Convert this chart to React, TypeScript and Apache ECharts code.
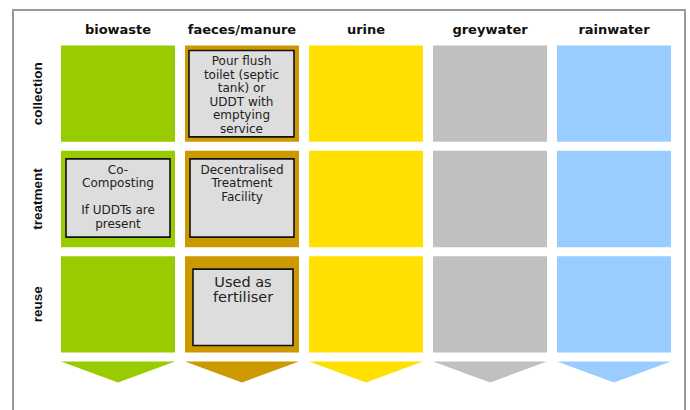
import React, { useEffect, useRef } from 'react';
import * as echarts from 'echarts';

const streams = ['biowaste', 'faeces/manure', 'urine', 'greywater', 'rainwater'];
const stages = ['collection', 'treatment', 'reuse'];
const streamColors = ['#99CC00', '#CC9900', '#FFE000', '#C0C0C0', '#99CCFF'];

const techStreams = ['faeces/manure', 'biowaste', 'faeces/manure', 'faeces/manure'];
const techStages = ['collection', 'treatment', 'treatment', 'reuse'];
const techLabels = [
  'Pour flush\ntoilet (septic\ntank) or\nUDDT with\nemptying\nservice',
  'Co-\nComposting\n\nIf UDDTs are\npresent',
  'Decentralised\nTreatment\nFacility',
  'Used as\nfertiliser',
];

const FONT = '"DejaVu Sans", "Liberation Sans", Arial, sans-serif';
const FONT_ROW = '"Liberation Sans", Arial, sans-serif';

export default function App() {
  const ref = useRef<HTMLDivElement>(null);
  useEffect(() => {
    const chart = echarts.init(ref.current!, null, { renderer: 'svg' });

    const cellData: number[][] = [];
    stages.forEach((_, r) => streams.forEach((_, s) => cellData.push([s, r])));
    const techData = techLabels.map((_, i) => [
      streams.indexOf(techStreams[i]),
      stages.indexOf(techStages[i]),
      i,
    ]);

    // inner-box insets per stage row: [left, top, right, bottom]
    const insets = [
      [4, 5, 5, 5],
      [5, 8, 5, 10],
      [8, 13, 6, 7],
    ];

    const option: any = {
      animation: false,
      backgroundColor: '#ffffff',
      grid: { left: 56, top: 41, width: 620, height: 316 },
      xAxis: {
        type: 'category',
        data: streams,
        position: 'top',
        axisLine: { show: false },
        axisTick: { show: false },
        splitLine: { show: false },
        axisLabel: {
          interval: 0,
          margin: 5,
          fontSize: 13,
          fontWeight: 'bold',
          color: '#111',
          fontFamily: FONT,
        },
      },
      yAxis: {
        type: 'category',
        data: stages,
        inverse: true,
        axisLine: { show: false },
        axisTick: { show: false },
        splitLine: { show: false },
        axisLabel: {
          interval: 0,
          rotate: 90,
          margin: 12,
          fontSize: 13.5,
          fontWeight: 'bold',
          color: '#111',
          fontFamily: FONT_ROW,
        },
      },
      graphic: [
        {
          type: 'rect',
          z: -10,
          shape: { x: 13, y: 10, width: 672, height: 430 },
          style: { fill: 'none', stroke: '#9a9a9a', lineWidth: 2 },
        },
      ],
      series: [
        {
          type: 'custom',
          data: cellData,
          renderItem: (params: any, api: any) => {
            const si = api.value(0);
            const ri = api.value(1);
            const c = api.coord([si, ri]);
            const s = api.size([1, 1]);
            const w = s[0] - 10;
            const h = s[1] - 9;
            const x0 = c[0] - w / 2;
            const y0 = c[1] - h / 2;
            const children: any[] = [
              {
                type: 'rect',
                shape: { x: x0, y: y0, width: w, height: h },
                style: { fill: streamColors[si] },
              },
            ];
            if (ri === stages.length - 1) {
              const ay = y0 + h + 9;
              children.push({
                type: 'polygon',
                shape: {
                  points: [
                    [x0, ay],
                    [x0 + w, ay],
                    [c[0], ay + 21],
                  ],
                },
                style: { fill: streamColors[si] },
              });
            }
            return { type: 'group', children };
          },
        },
        {
          type: 'custom',
          data: techData,
          z: 5,
          renderItem: (params: any, api: any) => {
            const si = api.value(0);
            const ri = api.value(1);
            const li = api.value(2);
            const c = api.coord([si, ri]);
            const s = api.size([1, 1]);
            const w = s[0] - 10;
            const h = s[1] - 9;
            const x0 = c[0] - w / 2;
            const y0 = c[1] - h / 2;
            const ins = insets[ri];
            const bx = x0 + ins[0];
            const by = y0 + ins[1];
            const bw = w - ins[0] - ins[2];
            const bh = h - ins[1] - ins[3];
            const big = ri === stages.length - 1;
            const fs = big ? 14.5 : 12;
            const lh = big ? 15 : 13.5;
            return {
              type: 'group',
              children: [
                {
                  type: 'rect',
                  shape: { x: bx, y: by, width: bw, height: bh },
                  style: { fill: '#DDDDDD', stroke: '#111', lineWidth: 1.6 },
                },
                {
                  type: 'text',
                  x: bx + bw / 2,
                  y: by + (big ? 5 : 4),
                  style: {
                    text: techLabels[li],
                    fill: '#222',
                    fontSize: fs,
                    fontFamily: FONT,
                    lineHeight: lh,
                    align: 'center',
                    verticalAlign: 'top',
                    textAlign: 'center',
                    textVerticalAlign: 'top',
                  },
                },
              ],
            };
          },
        },
      ],
    };
    chart.setOption(option);
    return () => chart.dispose();
  }, []);
  return (
    <div
      ref={ref}
      style={{ position: 'fixed', left: 0, top: 0, width: 690, height: 410, background: '#fff' }}
    />
  );
}
